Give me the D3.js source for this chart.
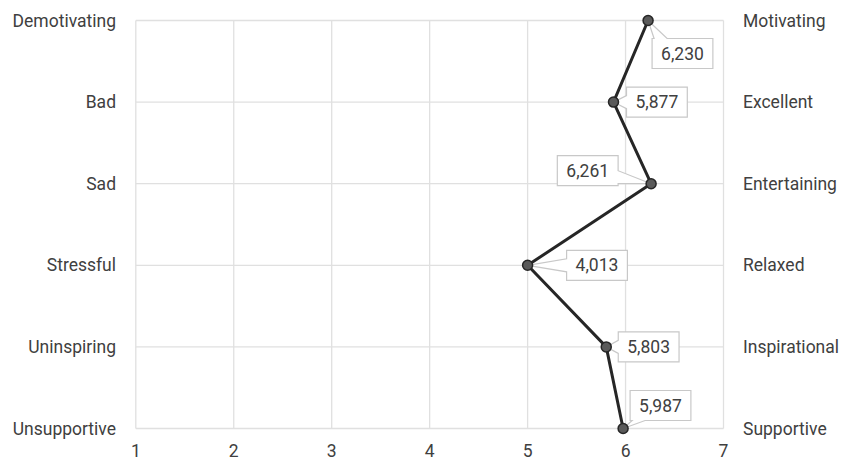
<!DOCTYPE html>
<html>
<head>
<meta charset="utf-8">
<script src="https://cdn.jsdelivr.net/npm/d3@7"></script>
<style>
  html, body { margin: 0; padding: 0; background: #fff; }
  text { font-family: Roboto, "Open Sans", sans-serif; fill: #404040; }
</style>
</head>
<body>
<div id="chart"></div>
<script>
// left and right pole of each scale, top to bottom
var leftLabels = ["Demotivating", "Bad", "Sad", "Stressful", "Uninspiring", "Unsupportive"];
var rightLabels = ["Motivating", "Excellent", "Entertaining", "Relaxed", "Inspirational", "Supportive"];
// where the markers sit on the 1..7 scale
var values = [6.23, 5.877, 6.261, 5.0, 5.803, 5.975];
// text of the data labels (as shown, not always matching the marker)
var valueLabels = ["6,230", "5,877", "6,261", "4,013", "5,803", "5,987"];
var xTicks = [1, 2, 3, 4, 5, 6, 7];

var width = 844, height = 460;
var fontSize = "17.5px";

var svg = d3.select("#chart").append("svg")
    .attr("width", width)
    .attr("height", height);

var x = d3.scaleLinear().domain([1, 7]).range([135.8, 723.5]);
var y = d3.scalePoint().domain(d3.range(leftLabels.length)).range([20.5, 428.5]);

// grid
var grid = svg.append("g").attr("class", "grid");
grid.selectAll(".vline")
    .data(xTicks)
    .enter().append("line")
    .attr("x1", function(d) { return x(d); })
    .attr("x2", function(d) { return x(d); })
    .attr("y1", y(0))
    .attr("y2", y(leftLabels.length - 1))
    .style("stroke", "#e0e0e0")
    .style("stroke-width", 1.3);

grid.selectAll(".hline")
    .data(d3.range(leftLabels.length))
    .enter().append("line")
    .attr("x1", x(1))
    .attr("x2", x(7))
    .attr("y1", function(d) { return y(d); })
    .attr("y2", function(d) { return y(d); })
    .style("stroke", "#e0e0e0")
    .style("stroke-width", 1.3);

// axis labels
svg.selectAll(".leftLabel")
    .data(leftLabels)
    .enter().append("text")
    .attr("x", 116)
    .attr("y", function(d, i) { return y(i); })
    .attr("dy", "0.35em")
    .style("text-anchor", "end")
    .style("font-size", fontSize)
    .text(function(d) { return d; });

svg.selectAll(".rightLabel")
    .data(rightLabels)
    .enter().append("text")
    .attr("x", 743)
    .attr("y", function(d, i) { return y(i); })
    .attr("dy", "0.35em")
    .style("text-anchor", "start")
    .style("font-size", fontSize)
    .text(function(d) { return d; });

svg.selectAll(".tick")
    .data(xTicks)
    .enter().append("text")
    .attr("x", function(d) { return x(d); })
    .attr("y", 451)
    .attr("dy", "0.35em")
    .style("text-anchor", "middle")
    .style("font-size", fontSize)
    .text(function(d) { return d; });

// line and markers
var line = d3.line()
    .x(function(d) { return x(d); })
    .y(function(d, i) { return y(i); });

svg.append("path")
    .datum(values)
    .attr("d", line)
    .style("fill", "none")
    .style("stroke", "#262626")
    .style("stroke-width", 3)
    .style("stroke-linejoin", "round");

svg.selectAll(".dot")
    .data(values)
    .enter().append("circle")
    .attr("cx", function(d) { return x(d); })
    .attr("cy", function(d, i) { return y(i); })
    .attr("r", 5)
    .style("fill", "#5a5a5a")
    .style("stroke", "#262626")
    .style("stroke-width", 1.5);

// callout labels: box offset from its marker (negative x = box right edge offset)
var boxOffsets = [[4, 18], [13, -15], [-33, -28], [39, -15], [12, -15], [7, -38]];
var boxH = 30, padX = 9, wedge = 13;

function calloutPath(bx, by, w, h, px, py) {
  var cx = bx + w / 2, cy = by + h / 2;
  var nx = (px - cx) / w, ny = (py - cy) / h;
  var side;
  if (Math.abs(ny) > Math.abs(nx)) side = ny < 0 ? "top" : "bottom";
  else side = nx < 0 ? "left" : "right";
  var p = [];
  var a, b;
  if (side === "top" || side === "bottom") {
    a = Math.max(bx + 2, Math.min(px - wedge / 2, bx + w - wedge - 2));
    b = a + wedge;
  } else {
    a = Math.max(by + 2, Math.min(py - wedge / 2, by + h - wedge - 2));
    b = a + wedge;
  }
  p.push([bx, by]);
  if (side === "top") { p.push([a, by], [px, py], [b, by]); }
  p.push([bx + w, by]);
  if (side === "right") { p.push([bx + w, a], [px, py], [bx + w, b]); }
  p.push([bx + w, by + h]);
  if (side === "bottom") { p.push([b, by + h], [px, py], [a, by + h]); }
  p.push([bx, by + h]);
  if (side === "left") { p.push([bx, b], [px, py], [bx, a]); }
  return "M" + p.map(function(q) { return q[0] + "," + q[1]; }).join("L") + "Z";
}

var labels = svg.selectAll(".callout")
    .data(values)
    .enter().append("g")
    .attr("class", "callout");

labels.each(function(d, i) {
  var g = d3.select(this);
  var path = g.append("path");
  var t = g.append("text")
      .style("font-size", fontSize)
      .style("text-anchor", "middle")
      .attr("dy", "0.35em")
      .text(valueLabels[i]);
  var w = t.node().getComputedTextLength() + padX * 2;
  var px = x(d), py = y(i);
  var bx = boxOffsets[i][0] < 0 ? px + boxOffsets[i][0] - w : px + boxOffsets[i][0];
  var by = py + boxOffsets[i][1];
  t.attr("x", bx + w / 2).attr("y", by + boxH / 2);
  path.attr("d", calloutPath(bx, by, w, boxH, px, py))
      .style("fill", "#fff")
      .style("stroke", "#c8c8c8")
      .style("stroke-width", 1.2);
});

// keep markers above callout pointers
svg.selectAll("circle").raise();
</script>
</body>
</html>
